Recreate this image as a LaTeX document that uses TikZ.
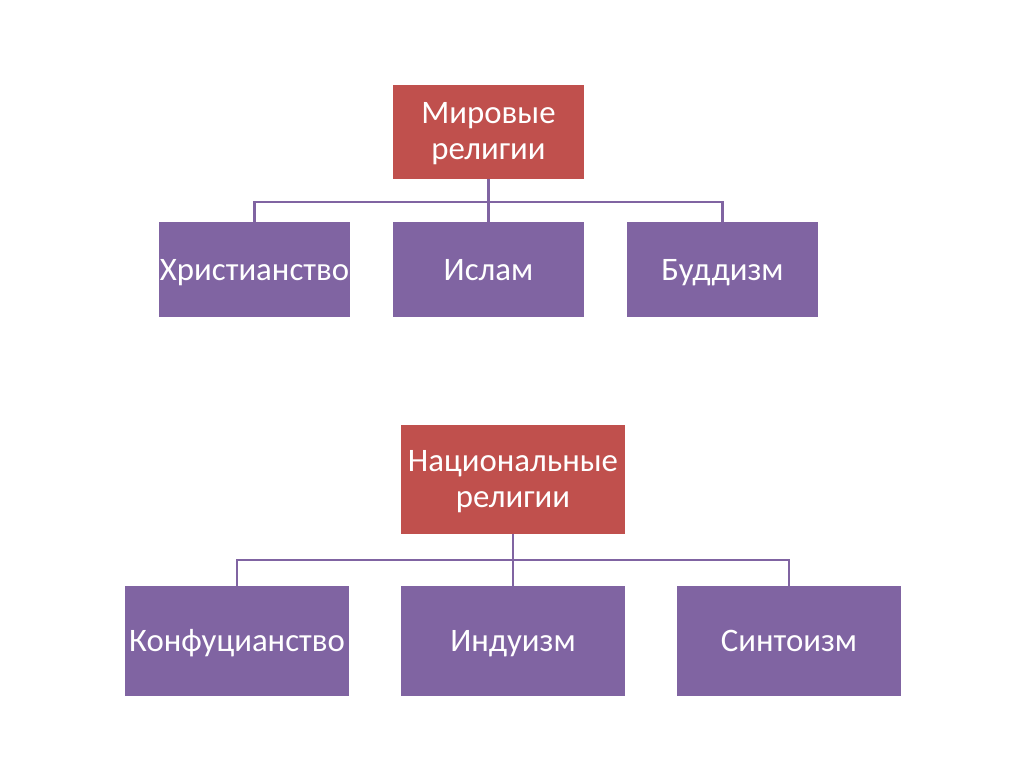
\documentclass[tikz,border=0pt]{standalone}
\usepackage{fontspec}
\setmainfont{Carlito}
\definecolor{boxred}{HTML}{C0504D}
\definecolor{boxpurple}{HTML}{8064A2}
\begin{document}
\begin{tikzpicture}[x=1pt,y=-1pt,
  base/.style={draw=none,inner sep=0pt,text=white,align=center,
    font=\fontsize{32.8}{36}\selectfont},
  redbox/.style={base,fill=boxred,text height=56pt,text depth=0pt},
  purplebox/.style={base,fill=boxpurple,text height=21pt,text depth=0pt},
  conn/.style={draw=boxpurple,line width=2.4pt}]
\useasboundingbox (0,0) rectangle (1024,767);
% top group
\node[redbox,minimum width=191pt,minimum height=94pt] (mir) at (488.5,132) {Мировые\\религии};
\node[purplebox,minimum width=191pt,minimum height=95pt] (hr) at (254.5,269.5) {Христианство};
\node[purplebox,minimum width=191pt,minimum height=95pt] (is) at (488.5,269.5) {Ислам};
\node[purplebox,minimum width=191pt,minimum height=95pt] (bu) at (722.5,269.5) {Буддизм};
\coordinate (bus1) at (488.5,202);
\draw[conn] (mir.south) -- (is.north);
\draw[conn] (hr.north) |- (bus1) -| (bu.north);
% bottom group
\node[redbox,minimum width=224pt,minimum height=109pt] (nac) at (513,479.5) {Национальные\\религии};
\node[purplebox,minimum width=224pt,minimum height=110pt] (ko) at (237,641) {Конфуцианство};
\node[purplebox,minimum width=224pt,minimum height=110pt] (in) at (513,641) {Индуизм};
\node[purplebox,minimum width=224pt,minimum height=110pt] (si) at (789,641) {Синтоизм};
\coordinate (bus2) at (513,560);
\draw[conn] (nac.south) -- (in.north);
\draw[conn] (ko.north) |- (bus2) -| (si.north);
\end{tikzpicture}
\end{document}
